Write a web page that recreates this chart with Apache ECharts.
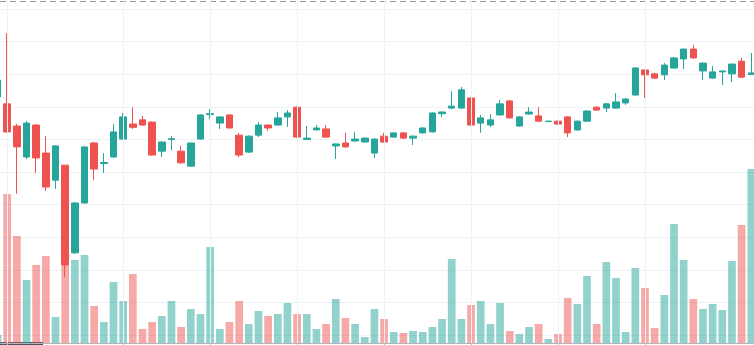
<!DOCTYPE html>
<html>
<head>
<meta charset="utf-8">
<script src="https://cdn.jsdelivr.net/npm/echarts@6/dist/echarts.min.js"></script>
<style>
html,body{margin:0;padding:0;background:#fff;}
#c{width:754px;height:345px;}
</style>
</head>
<body>
<div id="c"></div>
<script>
// bar (session) index on the time scale
const dayIndex = [-1,0,1,2,3,4,5,6,7,8,9,10,11,12,13,14,15,16,17,18,19,
20,21,22,23,24,25,26,27,28,29,30,31,32,33,34,35,36,37,38,39,
40,41,42,43,44,45,46,47,48,49,50,51,52,53,54,55,56,57,58,59,
60,61,62,63,64,65,66,67,68,69,70,71,72,73,74,75,76,77];

const openValues = [73.0,70.9,64.1,54.6,64.4,55.8,47.5,52.1,25.2,40.5,58.9,52.6,54.6,60.1,64.7,66.0,65.3,56.4,60.0,56.4,
51.8,60.1,67.6,65.0,67.5,61.3,56.1,61.3,64.4,64.4,66.9,69.9,60.0,62.9,63.2,58.0,58.9,59.5,59.2,55.8,
61.0,60.7,62.0,60.4,62.0,62.3,67.9,69.6,69.6,72.7,65.0,64.4,67.5,71.8,64.1,67.8,67.2,65.5,65.6,66.9,
62.9,65.6,69.9,69.6,69.6,71.2,73.6,81.3,80.1,79.8,81.9,84.7,87.7,81.0,78.8,80.7,80.1,84.0,79.9];

const closeValues = [78.2,62.3,57.7,65.0,54.3,45.4,58.0,21.5,40.5,57.7,50.9,52.9,62.3,66.9,63.7,64.4,55.2,59.2,60.2,52.8,
58.9,67.5,67.9,66.9,63.5,55.2,61.0,64.4,63.5,66.6,68.1,60.7,60.4,63.5,60.7,58.6,57.7,60.1,60.4,60.1,
59.2,62.0,60.4,61.0,63.5,68.1,68.4,70.2,75.2,64.4,66.6,66.0,70.9,66.6,66.9,68.4,65.6,65.6,64.7,62.0,
65.6,68.7,69.0,70.9,71.5,72.4,81.9,79.8,78.8,82.8,85.0,87.7,85.0,83.4,80.7,81.0,83.1,79.1,80.4];

const lowValues = [72.5,62.0,43.3,54.0,49.7,44.2,44.8,17.8,24.9,40.3,47.5,49.7,54.4,59.9,63.2,64.2,55.0,54.6,56.7,52.6,
51.6,59.9,66.3,63.2,63.3,54.6,55.9,60.7,62.6,64.2,63.8,60.5,59.9,62.8,60.5,54.0,57.5,59.4,59.0,54.3,
59.0,60.5,60.2,58.3,61.8,62.1,66.9,69.3,69.4,64.2,62.0,63.8,67.3,66.4,63.9,67.6,65.4,65.4,64.5,60.7,
62.7,65.4,68.7,68.4,69.4,70.6,73.4,72.7,78.6,78.2,81.7,81.6,84.8,78.2,78.6,76.7,77.6,78.9,79.8];

const highValues = [78.5,92.6,64.7,65.6,64.7,61.0,58.2,52.1,40.8,57.9,59.2,55.8,64.7,68.1,69.9,67.2,65.5,59.4,61.0,58.0,
59.1,67.7,69.3,67.1,67.7,62.0,61.2,65.3,64.6,68.4,69.0,70.1,64.1,64.4,64.4,58.7,62.0,62.3,60.6,60.3,
62.0,62.2,62.2,61.2,63.7,68.3,68.6,74.8,76.1,72.9,67.5,67.8,72.1,72.0,67.1,69.9,69.9,65.7,65.8,67.1,
65.8,68.9,70.1,71.1,74.2,72.6,82.1,81.5,80.4,83.4,85.2,87.9,89.0,83.6,82.5,81.2,83.3,85.0,86.5];

const volumeValues = [80,1490,1070,630,780,870,260,900,830,880,370,210,610,420,690,140,210,270,420,160,
340,290,960,140,210,420,190,320,270,290,400,290,290,140,190,440,250,190,60,340,
240,110,100,120,110,160,240,840,240,380,420,190,400,120,90,160,190,40,90,450,
390,670,190,810,650,110,750,550,150,480,1190,830,440,340,390,330,820,1180,1740];

// time-scale marks (grid lines / ticks)
const timeMarks = [0,12,21,30,39,48,57,66];

const upColor = '#26a69a';
const downColor = '#ef5350';
const upVolColor = 'rgba(38,166,154,0.5)';
const downVolColor = 'rgba(239,83,80,0.5)';

const candleData = dayIndex.map((d, i) => [d, openValues[i], closeValues[i], lowValues[i], highValues[i]]);
const volumeData = dayIndex.map((d, i) => ({
  value: [d, volumeValues[i]],
  itemStyle: { color: closeValues[i] >= openValues[i] ? upVolColor : downVolColor }
}));

const chart = echarts.init(document.getElementById('c'), null, { renderer: 'canvas' });
const xMin = -0.745, xMax = 77.28;
const gridColor = '#eef1f6';

chart.setOption({
  animation: false,
  backgroundColor: '#ffffff',
  grid: [
    { left: 0, right: 0, top: 0, bottom: 2 },
    { left: 0, right: 0, top: 9, bottom: 10 }
  ],
  xAxis: [
    {
      type: 'value', gridIndex: 0, min: xMin, max: xMax,
      axisLine: { show: true, onZero: false, lineStyle: { color: '#b2b5be', width: 1 } },
      axisTick: { show: true, customValues: timeMarks, length: 3, lineStyle: { color: '#b2b5be' } },
      axisLabel: { show: false, customValues: timeMarks },
      splitLine: { show: false }
    },
    {
      type: 'value', gridIndex: 1, min: xMin, max: xMax,
      axisLine: { show: false }, axisTick: { show: false }, axisLabel: { show: false }, splitLine: { show: false }
    }
  ],
  yAxis: [
    {
      type: 'value', gridIndex: 0, min: 0, max: 3430,
      axisLine: { show: false }, axisTick: { show: false }, axisLabel: { show: false }, splitLine: { show: false }
    },
    {
      type: 'value', gridIndex: 1, min: 0, max: 100, interval: 10,
      axisLine: { show: false }, axisTick: { show: false }, axisLabel: { show: false },
      splitLine: { show: true, lineStyle: { color: gridColor, width: 1 } }
    }
  ],
  series: [
    {
      type: 'bar', xAxisIndex: 0, yAxisIndex: 0, data: volumeData,
      barWidth: 7.7, silent: true, clip: true,
      markLine: {
        silent: true, symbol: 'none', label: { show: false },
        lineStyle: { color: gridColor, width: 1, type: 'solid' },
        data: timeMarks.map(t => ({ xAxis: t }))
      },
      z: 1
    },
    {
      type: 'candlestick', xAxisIndex: 1, yAxisIndex: 1, data: candleData,
      encode: { x: 0, y: [1, 2, 3, 4] },
      barWidth: 7, silent: true, clip: true,
      itemStyle: {
        color: upColor, color0: downColor,
        borderColor: upColor, borderColor0: downColor, borderWidth: 1
      },
      z: 3
    }
  ],
  graphic: [
    { type: 'line', shape: { x1: 0, y1: 1.5, x2: 754, y2: 1.5 }, style: { stroke: '#9598a1', lineWidth: 1, lineDash: [6, 4] }, silent: true },
    { type: 'rect', shape: { x: 0, y: 342, width: 43, height: 3 }, style: { fill: '#50535e' }, silent: true }
  ]
});
</script>
</body>
</html>
